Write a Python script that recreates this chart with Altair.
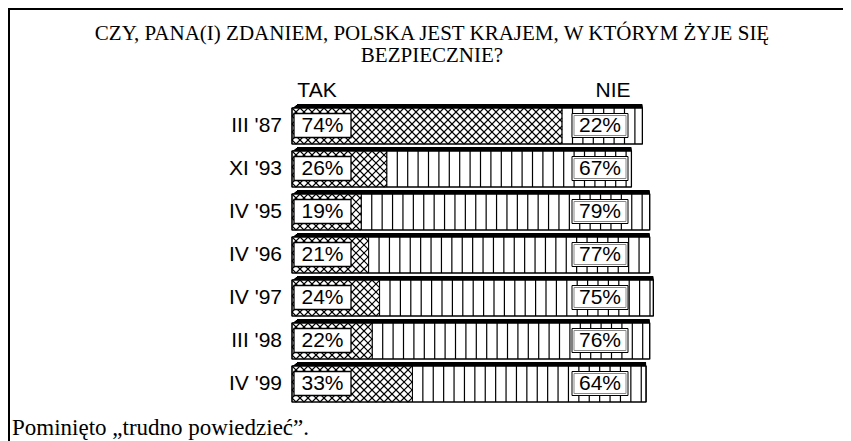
import math
import altair as alt
import pandas as pd

# ---- data ----
periods = ["III '87", "XI '93", "IV '95", "IV '96", "IV '97", "III '98", "IV '99"]
tak = [74, 26, 19, 21, 24, 22, 33]
nie = [22, 67, 79, 77, 75, 76, 64]
headers = ["TAK", "NIE"]
title_lines = ["CZY, PANA(I) ZDANIEM, POLSKA JEST KRAJEM, W KTÓRYM ŻYJE SIĘ", "BEZPIECZNIE?"]
footnote = "Pominięto „trudno powiedzieć”."

# ---- layout constants (pixels) ----
W, H = 835, 433
PX = 3.65          # pixels per percent
X0 = 284           # view x of 0 %
ROW = 43           # row step
Y0 = 118           # view y of first row centre
BAR_H = 36         # bar body height
HATCH = 8.0        # crosshatch period
STRIPE = 10.4      # vertical stripe period

xscale = alt.Scale(domain=[-X0 / PX, (W - X0) / PX], range=[0, W], nice=False, zero=False)
yscale = alt.Scale(domain=[-Y0 / ROW, (H - Y0) / ROW], range=[0, H], nice=False, zero=False)

half = BAR_H / 2 / ROW
bars = pd.DataFrame({
    "period": periods,
    "row": list(range(len(periods))),
    "tak": tak,
    "nie": nie,
})
bars["zero"] = 0
bars["total"] = bars["tak"] + bars["nie"]
bars["top"] = bars["row"] - half
bars["bot"] = bars["row"] + half
bars["btop"] = bars["row"] - 12.5 / ROW
bars["bbot"] = bars["row"] + 11.5 / ROW
bars["tak_lab"] = [f"{v}%" for v in tak]
bars["nie_lab"] = [f"{v}%" for v in nie]

# crosshatch lines clipped to the TAK segment
hatch = []
for i, t in enumerate(tak):
    wpx = t * PX
    def add(xa, ya, xb, yb):
        hatch.append({
            "x": xa / PX, "x2": xb / PX,
            "y": i + (ya - BAR_H / 2) / ROW, "y2": i + (yb - BAR_H / 2) / ROW,
        })
    for k in range(math.floor(-BAR_H / HATCH), math.ceil(wpx / HATCH) + 1):
        c = k * HATCH
        ys, ye = max(0.0, -c), min(BAR_H, wpx - c)
        if ye - ys > 0.3:
            add(ys + c, ys, ye + c, ye)
    for k in range(0, math.ceil((wpx + BAR_H) / HATCH) + 1):
        c = k * HATCH
        ys, ye = max(0.0, c - wpx), min(BAR_H, c)
        if ye - ys > 0.3:
            add(c - ys, ys, c - ye, ye)
hatch = pd.DataFrame(hatch)

# vertical stripes in the NIE segment
stripes = []
for i, (t, n) in enumerate(zip(tak, nie)):
    start, end = t * PX, (t + n) * PX
    k = 1
    while start + k * STRIPE < end - 1.5:
        stripes.append({"x": (start + k * STRIPE) / PX, "y": i - half, "y2": i + half})
        k += 1
stripes = pd.DataFrame(stripes)

one = alt.Data(values=[{"a": 1}])

def X(f):
    return alt.X(f, type="quantitative", scale=xscale, axis=None)

def Y(f):
    return alt.Y(f, type="quantitative", scale=yscale, axis=None)

layers = []

# frame (top and left lines)
layers.append(alt.Chart(one).mark_rule(color="black", strokeWidth=2).encode(
    x=alt.value(1), y=alt.value(0), y2=alt.value(H)))
layers.append(alt.Chart(one).mark_rule(color="black", strokeWidth=2).encode(
    y=alt.value(1), x=alt.value(0), x2=alt.value(W)))

# 3D shadow
for k in range(1, 5):
    layers.append(alt.Chart(bars).mark_rect(color="black", xOffset=1.25 * k, yOffset=-k).encode(
        x=X("zero"), x2="total", y=Y("top"), y2="bot"))

# bar bodies
layers.append(alt.Chart(bars).mark_rect(fill="white", stroke="black", strokeWidth=1).encode(
    x=X("zero"), x2="tak", y=Y("top"), y2="bot"))
layers.append(alt.Chart(bars).mark_rect(fill="white", stroke="black", strokeWidth=1).encode(
    x=X("tak"), x2="total", y=Y("top"), y2="bot"))

# patterns
layers.append(alt.Chart(hatch).mark_rule(color="black", strokeWidth=1.1).encode(
    x=X("x"), x2="x2", y=Y("y"), y2="y2"))
layers.append(alt.Chart(stripes).mark_rule(color="black", strokeWidth=1.2).encode(
    x=X("x"), y=Y("y"), y2="y2"))

# outline again on top of patterns
layers.append(alt.Chart(bars).mark_rect(fill=None, stroke="black", strokeWidth=1.2).encode(
    x=X("zero"), x2="total", y=Y("top"), y2="bot"))

# label boxes
layers.append(alt.Chart(bars).mark_rect(fill="white", stroke="black", strokeWidth=1.3).encode(
    x=alt.value(286), x2=alt.value(343), y=Y("btop"), y2="bbot"))
layers.append(alt.Chart(bars).mark_rect(fill="white", stroke="black", strokeWidth=1).encode(
    x=alt.value(564), x2=alt.value(620), y=Y("btop"), y2="bbot"))
layers.append(alt.Chart(bars).mark_rect(fill=None, stroke="#888888", strokeWidth=1,
                                         x2Offset=-2, xOffset=2, yOffset=2, y2Offset=-2).encode(
    x=alt.value(564), x2=alt.value(620), y=Y("btop"), y2="bbot"))

sans = "Liberation Sans"
serif = "Liberation Serif"

layers.append(alt.Chart(bars).mark_text(font=sans, fontSize=21, color="black", baseline="middle", dy=0).encode(
    x=alt.value(314.5), y=Y("row"), text="tak_lab"))
layers.append(alt.Chart(bars).mark_text(font=sans, fontSize=21, color="black", baseline="middle", dy=0).encode(
    x=alt.value(592), y=Y("row"), text="nie_lab"))
layers.append(alt.Chart(bars).mark_text(font=sans, fontSize=21, color="black", baseline="middle", align="right").encode(
    x=alt.value(274), y=Y("row"), text="period"))

layers.append(alt.Chart(alt.Data(values=[{"h": headers[0]}])).mark_text(
    font=sans, fontSize=21, color="black", baseline="alphabetic").encode(
    x=alt.value(309), y=alt.value(89), text="h:N"))
layers.append(alt.Chart(alt.Data(values=[{"h": headers[1]}])).mark_text(
    font=sans, fontSize=21, color="black", baseline="alphabetic").encode(
    x=alt.value(605), y=alt.value(89), text="h:N"))

layers.append(alt.Chart(one).mark_text(
    font=serif, fontSize=21, color="black", baseline="alphabetic", lineHeight=22).encode(
    x=alt.value(424), y=alt.value(32), text=alt.value(title_lines)))

layers.append(alt.Chart(one).mark_text(
    font=serif, fontSize=23, color="black", baseline="alphabetic", align="left").encode(
    x=alt.value(4), y=alt.value(427), text=alt.value(footnote)))

chart = alt.layer(*layers).properties(
    width=W, height=H, padding=0, autosize=alt.AutoSizeParams(type="none")
).configure_view(stroke=None)

chart.save("out.html", embed_options={"renderer": "svg", "actions": False})
